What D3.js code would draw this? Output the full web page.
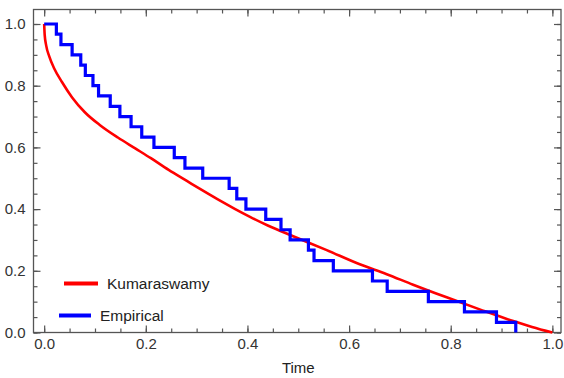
<!DOCTYPE html>
<html>
<head>
<meta charset="utf-8">
<script src="https://cdn.jsdelivr.net/npm/d3@7"></script>
<style>
  body { margin: 0; background: #fff; }
  svg { display: block; }
  .tick text { font-family: "Liberation Sans", Arial, sans-serif; font-size: 15px; fill: #333; }
  .legend text { font-family: "Liberation Sans", Arial, sans-serif; font-size: 15.5px; fill: #222; }
</style>
</head>
<body>
<svg id="chart" width="564" height="378"></svg>
<script>
// empirical survival: jump times and the level after each jump
var stepTimes = [0, 0.024, 0.033, 0.055, 0.072, 0.081, 0.096, 0.107, 0.130, 0.149, 0.171,
  0.192, 0.216, 0.256, 0.277, 0.312, 0.364, 0.379, 0.397, 0.436, 0.466,
  0.484, 0.520, 0.531, 0.569, 0.646, 0.675, 0.756, 0.827, 0.890, 0.928];
var stepLevels = [1.000, 0.967, 0.933, 0.900, 0.867, 0.833, 0.800, 0.767, 0.733, 0.700, 0.667,
  0.633, 0.600, 0.567, 0.533, 0.500, 0.467, 0.433, 0.400, 0.367, 0.333,
  0.300, 0.267, 0.233, 0.200, 0.167, 0.133, 0.100, 0.067, 0.033, 0.000];

// fitted Kumaraswamy survival curve
var curveT = [0, 0.001, 0.004, 0.01, 0.02, 0.035, 0.055, 0.08, 0.11, 0.145, 0.18, 0.21,
  0.245, 0.28, 0.31, 0.34, 0.375, 0.405, 0.44, 0.49, 0.556, 0.621, 0.674, 0.726,
  0.792, 0.857, 0.923, 0.96, 1.0];
var curveS = [1.0, 0.965, 0.93, 0.895, 0.855, 0.812, 0.762, 0.714, 0.672, 0.632, 0.596, 0.565,
  0.527, 0.492, 0.462, 0.433, 0.401, 0.375, 0.347, 0.312, 0.267, 0.221, 0.189, 0.155,
  0.114, 0.075, 0.037, 0.018, 0];

var majorTicks = [0, 0.2, 0.4, 0.6, 0.8, 1.0];
var minorTicks = d3.range(0, 1.0001, 0.05);

var legendNames = ["Kumaraswamy", "Empirical"];
var legendColors = ["#ff0000", "#0000ff"];

var svg = d3.select("#chart");
var frameL = 33.5, frameR = 561, frameT = 9.5, frameB = 332.5;

var x = d3.scaleLinear().domain([-0.021, 1.017]).range([frameL, frameR]);
var y = d3.scaleLinear().domain([0, 1.047]).range([frameB, frameT]);

var fmt = d3.format(".1f");

function frameAxis(axisFn, scale, ticks, size, pad) {
  var a = axisFn(scale).tickValues(ticks).tickSizeInner(-size).tickSizeOuter(0);
  if (pad != null) a.tickFormat(fmt).tickPadding(pad);
  else a.tickFormat("");
  return a;
}

function drawAxis(transform, axisFn, scale, pad) {
  var gMinor = svg.append("g").attr("transform", transform)
    .call(frameAxis(axisFn, scale, minorTicks, 4, null));
  var gMajor = svg.append("g").attr("transform", transform)
    .call(frameAxis(axisFn, scale, majorTicks, 7, pad));
  [gMinor, gMajor].forEach(function(g) {
    g.select(".domain").remove();
    g.selectAll(".tick line").attr("stroke", "#555").attr("stroke-width", 1.2);
  });
  return gMajor;
}

drawAxis("translate(0," + frameB + ")", d3.axisBottom, x, 5.5);
drawAxis("translate(0," + frameT + ")", d3.axisTop, x, null);
drawAxis("translate(" + frameL + ",0)", d3.axisLeft, y, 8);
drawAxis("translate(" + frameR + ",0)", d3.axisRight, y, null);

svg.append("rect")
  .attr("x", frameL).attr("y", frameT)
  .attr("width", frameR - frameL).attr("height", frameB - frameT)
  .attr("fill", "none").attr("stroke", "#555").attr("stroke-width", 1.3);

svg.append("text")
  .attr("x", x(0.5)).attr("y", 373)
  .attr("text-anchor", "middle")
  .style("font-family", "Liberation Sans, Arial, sans-serif")
  .style("font-size", "15px").style("fill", "#222")
  .text("Time");

// Kumaraswamy curve
var redLine = d3.line()
  .x(function(d, i) { return x(curveT[i]); })
  .y(function(d) { return y(d); })
  .curve(d3.curveMonotoneX);

svg.append("path")
  .datum(curveS)
  .attr("d", redLine)
  .attr("fill", "none")
  .attr("stroke", "#ff0000")
  .attr("stroke-width", 2.6);

// empirical step function
var stepLine = d3.line()
  .x(function(d, i) { return x(stepTimes[i]); })
  .y(function(d) { return y(d); })
  .curve(d3.curveStepAfter);

svg.append("path")
  .datum(stepLevels)
  .attr("d", stepLine)
  .attr("fill", "none")
  .attr("stroke", "#0000ff")
  .attr("stroke-width", 3.2);

// legend
var legend = svg.append("g").attr("class", "legend");
var legendRows = [
  {x1: 64, x2: 98, y: 283.5, tx: 107},
  {x1: 59, x2: 91, y: 315.5, tx: 100}
];
legendRows.forEach(function(r, i) {
  legend.append("line")
    .attr("x1", r.x1).attr("x2", r.x2).attr("y1", r.y).attr("y2", r.y)
    .attr("stroke", legendColors[i]).attr("stroke-width", 4);
  legend.append("text")
    .attr("x", r.tx).attr("y", r.y + 5.5)
    .text(legendNames[i]);
});
</script>
</body>
</html>
